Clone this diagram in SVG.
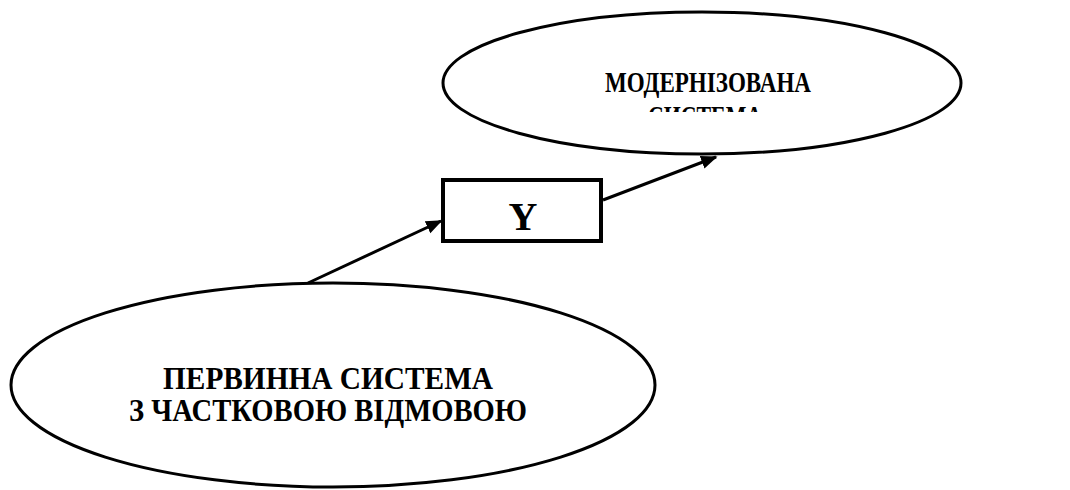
<svg xmlns="http://www.w3.org/2000/svg" width="1070" height="490" viewBox="0 0 1070 490">
<style>
.node{fill:#fff;stroke:#000;stroke-width:3}
.lbl{font-family:"Liberation Serif","Times New Roman",serif;font-weight:bold;fill:#000;text-anchor:middle}
.conn{stroke:#000;stroke-width:3;fill:none}
</style>
<defs>
<marker id="ah" viewBox="0 0 10 10" refX="9" refY="5" markerWidth="5.5" markerHeight="5.5" markerUnits="strokeWidth" orient="auto">
<path d="M0,1 L10,5 L0,9 z" fill="#000"/>
</marker>
<clipPath id="clipTop"><rect x="560" y="60" width="300" height="52"/></clipPath>
</defs>
<g id="connectors">
<line class="conn" x1="308" y1="283" x2="441" y2="221" marker-end="url(#ah)"/>
<line class="conn" x1="603" y1="200" x2="716" y2="157" marker-end="url(#ah)"/>
</g>
<g id="node-modern">
<ellipse class="node" cx="702" cy="83" rx="259" ry="71"/>
<g clip-path="url(#clipTop)">
<text class="lbl" x="708" y="92" font-size="29" textLength="206" lengthAdjust="spacingAndGlyphs">МОДЕРНІЗОВАНА</text>
<text class="lbl" x="705" y="126" font-size="29" textLength="114" lengthAdjust="spacingAndGlyphs">СИСТЕМА</text>
</g>
</g>
<g id="node-y">
<rect x="443" y="180" width="158" height="61" fill="#fff" stroke="#000" stroke-width="4"/>
<text class="lbl" x="523" y="230" font-size="40">Y</text>
</g>
<g id="node-primary">
<ellipse class="node" cx="333" cy="385" rx="322" ry="102"/>
<text class="lbl" x="328" y="389" font-size="31" textLength="330" lengthAdjust="spacingAndGlyphs">ПЕРВИННА СИСТЕМА</text>
<text class="lbl" x="328" y="421" font-size="31" textLength="398" lengthAdjust="spacingAndGlyphs">З ЧАСТКОВОЮ ВІДМОВОЮ</text>
</g>
</svg>
